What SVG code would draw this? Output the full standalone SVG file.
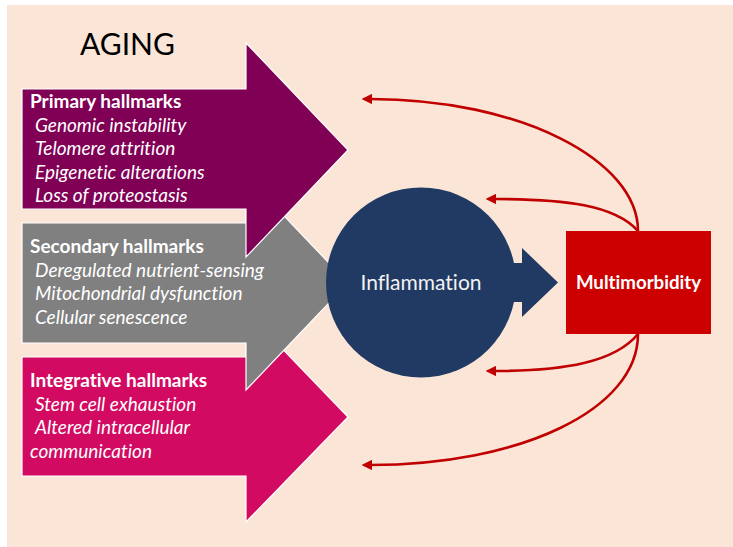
<svg xmlns="http://www.w3.org/2000/svg" width="733" height="547" viewBox="0 0 733 547">
  <defs>
    <marker id="head" viewBox="0 0 10 10" refX="2" refY="5" markerWidth="4" markerHeight="4" orient="auto-start-reverse" markerUnits="strokeWidth">
      <path d="M0,0 L10,5 L0,10 Z" fill="#C00000"/>
    </marker>
  </defs>
  <style>
    text { font-family: Lato, "Open Sans", "Liberation Sans", sans-serif; fill: #ffffff; font-variant-ligatures: none; }
    .band { stroke: #ffffff; stroke-width: 1.2; }
    .title { font-weight: bold; font-size: 19px; }
    .item { font-style: italic; font-size: 19px; }
    .loop { fill: none; stroke: #C00000; stroke-width: 2.6; marker-end: url(#head); }
  </style>

  <!-- page background -->
  <rect x="7" y="5" width="726" height="542" fill="#FBE5D6"/>

  <text x="80" y="55" font-size="30" style="fill:#000000">AGING</text>

  <!-- hallmark arrows, drawn bottom to top so upper heads overlap lower bodies -->
  <g id="integrative">
    <path class="band" fill="#D20A62" d="M22,357 H246 V311 L348,417 L246,522 V476 H22 Z"/>
    <text class="title" x="30" y="387">Integrative hallmarks</text>
    <text class="item" x="35" y="411">Stem cell exhaustion</text>
    <text class="item" x="35" y="434">Altered intracellular</text>
    <text class="item" x="30" y="458">communication</text>
  </g>

  <g id="secondary">
    <path class="band" fill="#808080" d="M22,223 H246 V176 L348,283 L246,390 V343 H22 Z"/>
    <text class="title" x="30" y="253">Secondary hallmarks</text>
    <text class="item" x="35" y="277">Deregulated nutrient-sensing</text>
    <text class="item" x="35" y="300">Mitochondrial dysfunction</text>
    <text class="item" x="35" y="324">Cellular senescence</text>
  </g>

  <g id="primary">
    <path class="band" fill="#7F0055" d="M22,89 H246 V43 L348,150 L246,257 V209 H22 Z"/>
    <text class="title" x="30" y="108">Primary hallmarks</text>
    <text class="item" x="35" y="132">Genomic instability</text>
    <text class="item" x="35" y="155">Telomere attrition</text>
    <text class="item" x="35" y="179">Epigenetic alterations</text>
    <text class="item" x="35" y="202">Loss of proteostasis</text>
  </g>

  <g id="inflammation">
    <circle cx="421" cy="282.5" r="95" fill="#213A63"/>
    <path fill="#213A63" d="M500,263 H522 V248 L558,282.5 L522,317 V302 H500 Z"/>
    <text x="421" y="290" font-size="21" text-anchor="middle" style="fill:#F2F2F2">Inflammation</text>
  </g>

  <g id="multimorbidity">
    <rect x="566" y="231" width="145" height="103" fill="#CC0000"/>
    <text x="638.5" y="289" font-size="18.7" font-weight="bold" text-anchor="middle">Multimorbidity</text>
  </g>

  <!-- feedback loops from multimorbidity back to aging -->
  <g id="connectors">
    <path class="loop" d="M638,231 C638,160 520,99 370,99"/>
    <path class="loop" d="M638,231 C615,205 565,199 494,199"/>
    <path class="loop" d="M638,334 C615,362 565,371 494,371"/>
    <path class="loop" d="M638,334 C638,410 520,465 370,465"/>
  </g>
</svg>
